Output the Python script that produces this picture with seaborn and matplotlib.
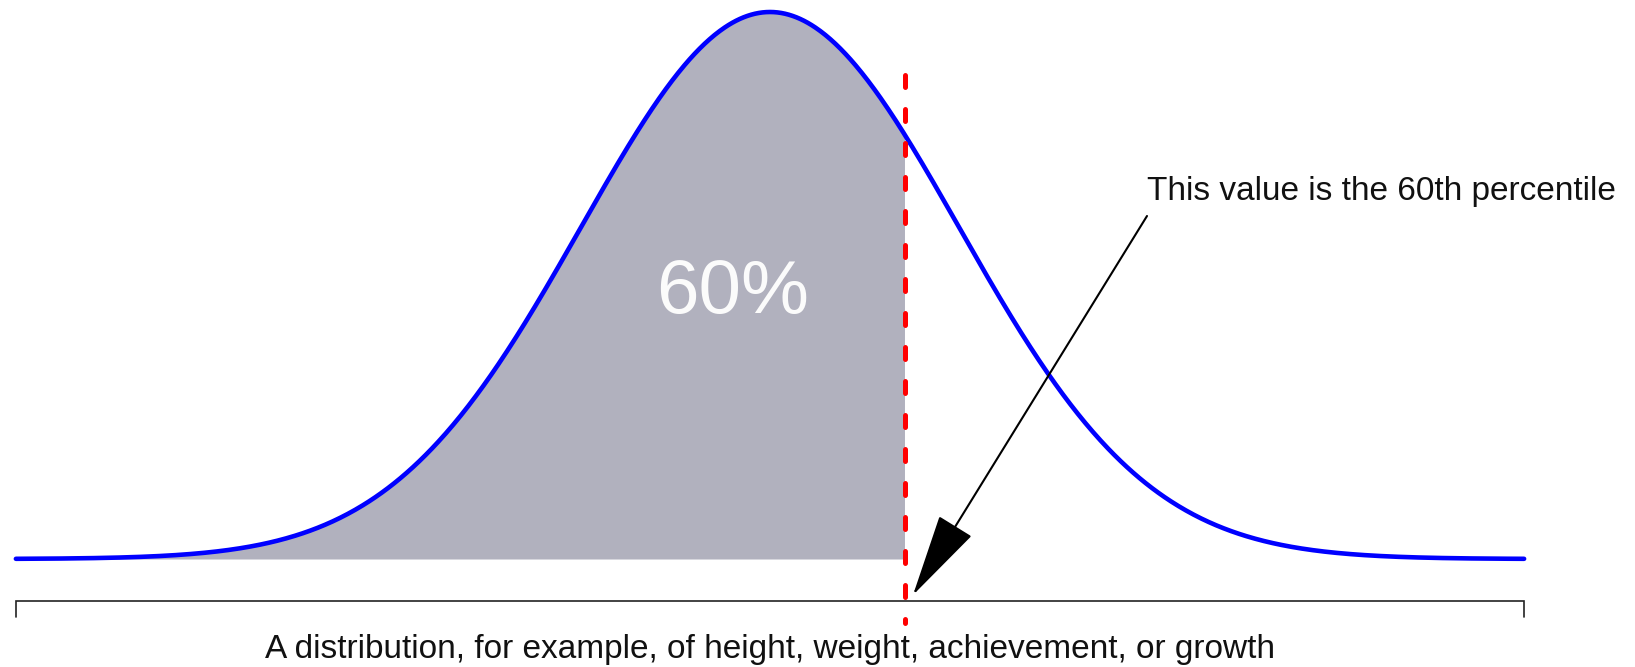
import numpy as np
import pandas as pd
import matplotlib
matplotlib.use("Agg")
import matplotlib.pyplot as plt
import seaborn as sns

# ---------------- data ----------------
mean = 0.0            # centre of the distribution
sd = 1.0              # spread (curve drawn over +/- 3.99 sd)
z_lo, z_hi = -3.99, 3.99
cut_value = 0.714     # where the percentile line is drawn (sd units, as in picture)
shade_label = "60%"
annotation_label = "This value is the 60th percentile"
caption = "A distribution, for example, of height, weight, achievement, or growth"

values = np.linspace(mean + z_lo * sd, mean + z_hi * sd, 1201)
density = np.exp(-0.5 * ((values - mean) / sd) ** 2) / (sd * np.sqrt(2 * np.pi))
df = pd.DataFrame({"value": values, "density": density})
shaded = df[df["value"] <= cut_value]

# ---------------- styling / layout ----------------
sns.set_theme(style="white")
plt.rcParams["font.family"] = ["Liberation Sans", "DejaVu Sans"]

W, H = 1635, 667
fig = plt.figure(figsize=(W / 100, H / 100), dpi=100)
ax = fig.add_axes([0, 0, 1, 1])
ax.set_axis_off()

# pixel-based layout helpers (layout only, not data)
x0_px, sd_px = 770.0, 189.0
base_px, peak_px = 559.0, 547.0
yscale = density.max() / peak_px
def py(p):
    return (base_px - p) * yscale
def px(p):
    return (p - x0_px) / sd_px

ax.set_xlim(px(0), px(W))
ax.set_ylim(py(H), py(0))

# shaded area
ax.fill_between(shaded["value"], 0, shaded["density"], color="#b1b1be",
                linewidth=0, zorder=1)

# curve
sns.lineplot(data=df, x="value", y="density", color="#0000ff", lw=3.3,
             solid_capstyle="round", ax=ax, zorder=3)

# percentile dashed line
ax.plot([cut_value, cut_value], [py(74.5), py(623)], color="#ff0000",
        lw=3.6, linestyle=(0, (2.4, 4.4)), dash_capstyle="round", zorder=4)

# bracket under the distribution
ax.plot([z_lo, z_lo, z_hi, z_hi], [py(617), py(601), py(601), py(617)],
        color="#222222", lw=1.2, zorder=2, solid_joinstyle="miter")

# labels
ax.text(px(732.5), py(313), shade_label, color="#fbfbfb", fontsize=55,
        ha="center", va="baseline", zorder=5)
ax.text(px(1147), py(200), annotation_label, color="#111111", fontsize=24,
        ha="left", va="baseline", zorder=5)
ax.text(mean, py(658), caption, color="#111111", fontsize=24,
        ha="center", va="baseline", zorder=5)

# arrow
ax.annotate("", xy=(px(913), py(595)), xytext=(px(1147), py(216)),
            arrowprops=dict(arrowstyle="-|>,head_length=54,head_width=12.5",
                            mutation_scale=1, lw=1.5, color="black",
                            shrinkA=0, shrinkB=0),
            zorder=6)

ax.set_xlabel("")
ax.set_ylabel("")
fig.savefig("out.png", dpi=100, facecolor="white")
